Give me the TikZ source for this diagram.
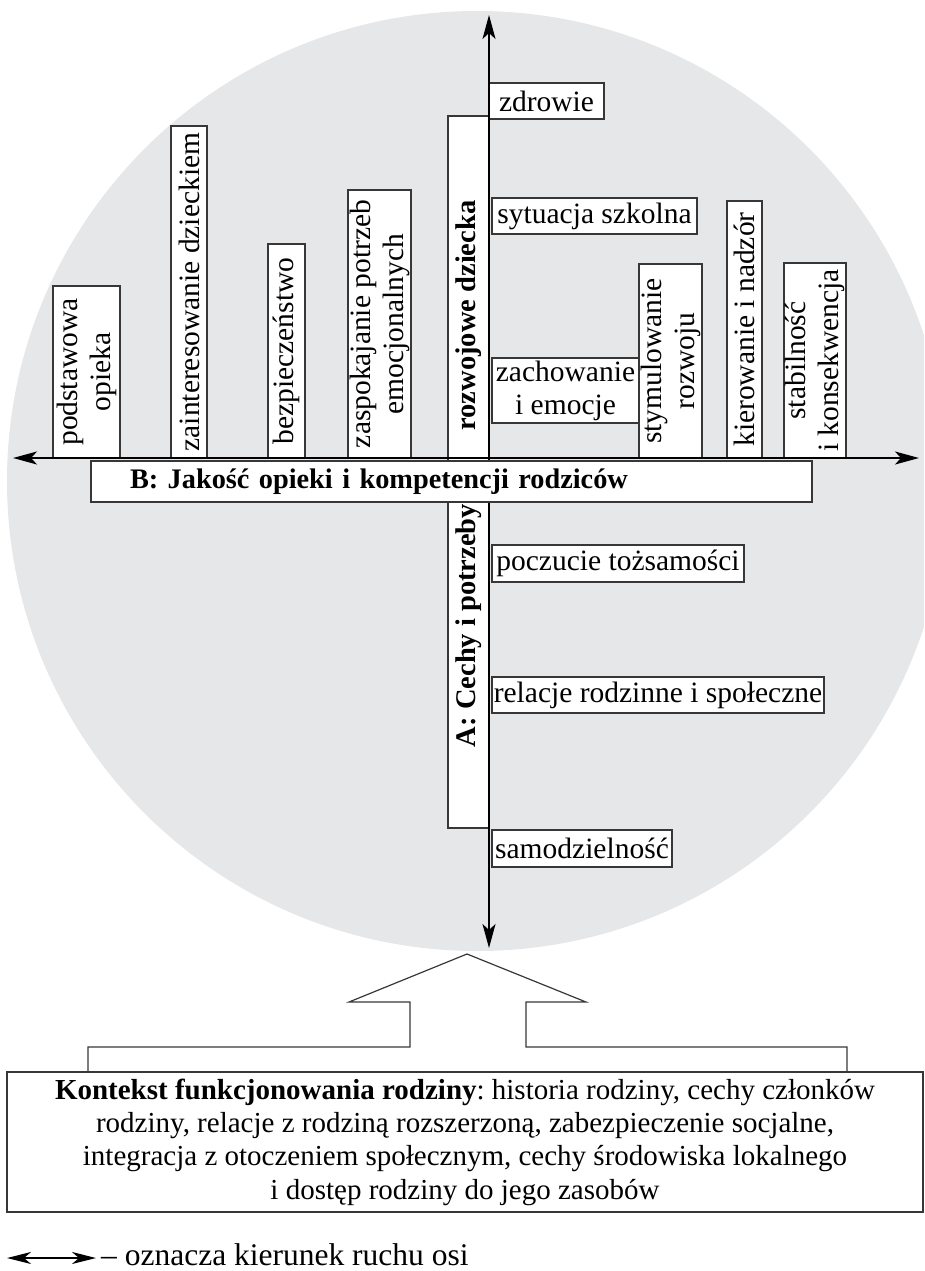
\documentclass[tikz,border=0pt]{standalone}
\usepackage{fontspec}
\setmainfont{Liberation Serif}
\usetikzlibrary{arrows.meta}

\definecolor{disc}{RGB}{230,231,232}
\definecolor{frame}{RGB}{55,55,55}

\newcommand{\lblsize}{\fontsize{29.5}{33}\selectfont}
\frenchspacing

\tikzset{
  lbl/.style={draw=frame, fill=white, line width=1.2pt, inner sep=0pt,
              align=center, font=\lblsize},
  vlbl/.style={lbl, rotate=90},
  boldv/.style={rotate=90, inner sep=0pt, font=\fontsize{28.5}{33}\selectfont\bfseries},
  axis/.style={line width=2pt, draw=black,
               {Stealth[length=24pt,width=13pt,inset=6pt]}-{Stealth[length=24pt,width=13pt,inset=6pt]}},
  legarrow/.style={line width=2pt, draw=black,
               {Stealth[length=24pt,width=12pt,inset=7pt]}-{Stealth[length=24pt,width=12pt,inset=7pt]}},
  outline/.style={draw=frame, line width=1.2pt},
}

\begin{document}
\begin{tikzpicture}[x=1pt,y=-1pt]
\useasboundingbox (0,0) rectangle (924,1271);

% grey disc behind the axes
\begin{scope}
  \clip (0,0) rectangle (924,1271);
  \fill[disc] (477,481) circle[radius=470];
\end{scope}

% axis end points
\coordinate (ytop) at (489,15);
\coordinate (ybot) at (489,948);
\coordinate (xleft) at (13,458);
\coordinate (xright) at (919,458);

% dimension A: one long strip split by the B bar
\node[lbl, minimum width=41pt, minimum height=712pt] (Abox) at (468.5,472) {};
\node[boldv] (Aup) at (468.5,315.5) {rozwojowe dziecka};
\node[boldv] (Adown) at (468.5,625.5) {A: Cechy i potrzeby};

% parenting qualities standing on the horizontal axis
\node[vlbl, minimum width=172pt, minimum height=67pt] (podst) at (86.5,372) {podstawowa\\opieka};
\node[vlbl, minimum width=332pt, minimum height=36pt] (zaint) at (189,292) {zainteresowanie dzieckiem};
\node[vlbl, minimum width=214pt, minimum height=37pt] (bezp) at (286.5,351) {bezpieczeństwo};
\node[vlbl, minimum width=268pt, minimum height=63pt] (zasp) at (379.5,324) {zaspokajanie potrzeb\\emocjonalnych};
\node[vlbl, minimum width=194pt, minimum height=63pt] (stym) at (670.5,361) {stymulowanie\\rozwoju};
\node[vlbl, minimum width=257pt, minimum height=35pt] (kier) at (744.5,329.5) {kierowanie i nadzór};
\node[vlbl, minimum width=195pt, minimum height=62pt] (stab) at (815,360.5) {stabilność\\i konsekwencja};

% developmental needs hanging on the vertical axis
\node[lbl, minimum width=115pt, minimum height=36pt] (zdr) at (546.5,101) {zdrowie};
\node[lbl, minimum width=205pt, minimum height=36pt] (szk) at (594.5,216) {sytuacja szkolna};
\node[lbl, minimum width=147pt, minimum height=65pt] (zach) at (565.5,390.5) {zachowanie\\i emocje};
\node[lbl, minimum width=252pt, minimum height=37pt] (tozs) at (618,563.5) {poczucie tożsamości};
\node[lbl, minimum width=332pt, minimum height=36pt] (rel) at (658,695) {relacje rodzinne i społeczne};
\node[lbl, minimum width=180pt, minimum height=37pt] (samo) at (582,848.5) {samodzielność};

% vertical axis
\draw[axis] (ybot) -- (ytop);

% dimension B bar
\node[lbl, align=left, minimum width=721pt, minimum height=41pt, inner xsep=39pt,
      text width=643pt, font=\fontsize{28.3}{33}\selectfont\bfseries] (Bbox) at (451.5,481.5)
      {B: Jakość opieki i kompetencji rodziców};

% horizontal axis
\draw[axis] (xleft) -- (xright);

% family context box
\node[lbl, minimum width=916pt, minimum height=140pt, font=\fontsize{29}{33.3}\selectfont]
  (ctx) at (465,1142)
  {\textbf{Kontekst funkcjonowania rodziny}: historia rodziny, cechy członków\\
   rodziny, relacje z rodziną rozszerzoną, zabezpieczenie socjalne,\\
   integracja z otoczeniem społecznym, cechy środowiska lokalnego\\
   i dostęp rodziny do jego zasobów};

% hollow arrow rising from the context box
\draw[outline] (88,1072) |- (410,1047) -- (410,1002) -- (349,1002) -- (467,954)
  -- (586,1002) -- (526,1002) -- (526,1047) -| (847,1072);

% legend
\coordinate (legL) at (7,1258);
\coordinate (legR) at (96,1258);
\draw[legarrow] (legL) -- (legR);
\node[anchor=base west, inner sep=0pt, font=\fontsize{31.5}{36}\selectfont] (legtxt) at (101,1265)
  {– oznacza kierunek ruchu osi};

\end{tikzpicture}
\end{document}
